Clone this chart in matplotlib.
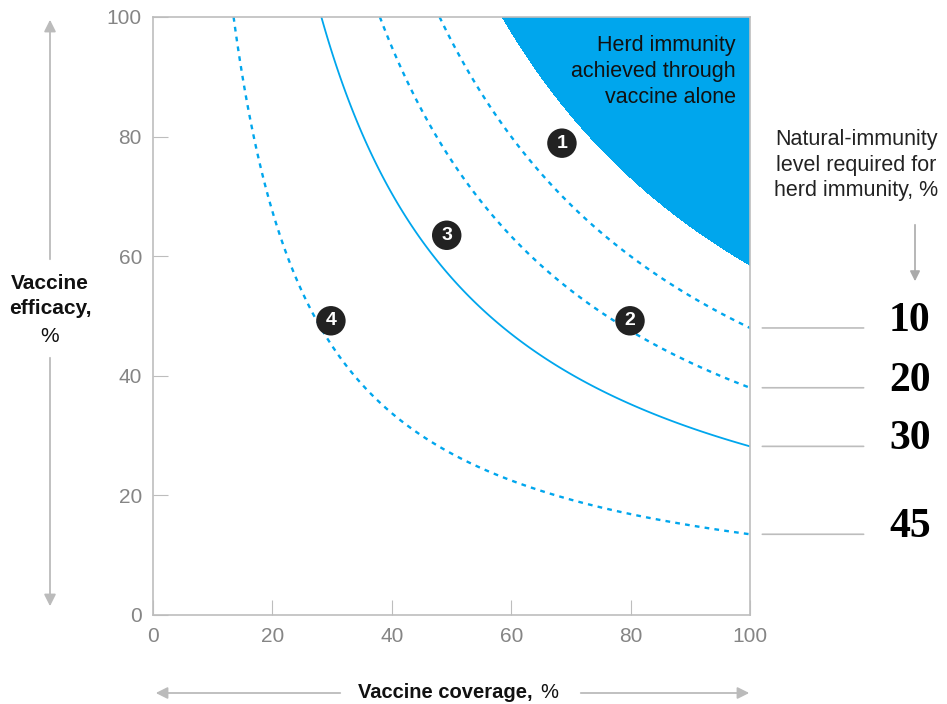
import numpy as np
import matplotlib.pyplot as plt
from matplotlib.patches import FancyArrowPatch

plt.rcParams['font.family'] = ['Liberation Sans', 'DejaVu Sans']

herd_level = 58.5
curve_levels = [48.0, 38.0, 28.2, 13.5]
curve_labels = ['10', '20', '30', '45']
curve_styles = ['dotted', 'dotted', 'solid', 'dotted']

# numbered markers (coverage, efficacy)
badge_nums = ['1', '2', '3', '4']
badge_x = [68.5, 79.9, 49.2, 29.8]
badge_y = [78.9, 49.2, 63.5, 49.2]

ticks = [0, 20, 40, 60, 80, 100]

blue = '#00a6ed'
grey = '#bdbdbd'
tick_grey = '#858585'

fig = plt.figure(figsize=(9.47, 7.04), dpi=100)
ax = fig.add_axes([153/947, 1-615/704, 597/947, 598/704])

cov = np.linspace(0.01, 100, 900)
eff = np.linspace(0.01, 100, 900)
C, E = np.meshgrid(cov, eff)
Z = C * E / 100.0

ax.contourf(C, E, Z, levels=[herd_level, 1000], colors=[blue])
for lvl, ls in zip(curve_levels, curve_styles):
    if ls == 'solid':
        ax.contour(C, E, Z, levels=[lvl], colors=[blue], linewidths=1.3)
    else:
        cs = ax.contour(C, E, Z, levels=[lvl], colors=[blue], linewidths=1.7)
        cs.set_linestyle((0, (2.0, 2.2)))

for n, bx, by in zip(badge_nums, badge_x, badge_y):
    ax.scatter(bx, by, s=450, color='#222222', zorder=5, edgecolors='none')
    ax.text(bx, by, n, color='white', fontsize=14, fontweight='bold',
            ha='center', va='center', zorder=6)

ax.text(97.6, 97.0, 'Herd immunity\nachieved through\nvaccine alone', ha='right', va='top',
        fontsize=15.5, color='#111111', linespacing=1.3)

ax.set_xlim(0, 100)
ax.set_ylim(0, 100)
ax.set_xticks(ticks)
ax.set_yticks(ticks)
ax.tick_params(direction='in', length=11, color=grey, labelcolor=tick_grey,
               labelsize=15, pad=9)
ax.tick_params(axis='y', pad=8)
for s in ax.spines.values():
    s.set_color(grey)
    s.set_linewidth(1.2)

# right-side labels for natural-immunity level
for lvl, lab in zip(curve_levels, curve_labels):
    ax.annotate('', xy=(119.5, lvl), xytext=(101.6, lvl), xycoords='data',
                annotation_clip=False,
                arrowprops=dict(arrowstyle='-', color=grey, lw=1.2))
    ax.text(126.8, lvl + 1.2, lab, fontsize=30, fontweight='bold', ha='center',
            va='center', family=['Liberation Serif', 'DejaVu Serif'], clip_on=False)

fig.text(856/947, 1-165/704, 'Natural-immunity\nlevel required for\nherd immunity, %',
         ha='center', va='center', fontsize=15.5, color='#222222', linespacing=1.3)
fig.add_artist(FancyArrowPatch((915/947, 1-222/704), (915/947, 1-284/704),
                               transform=fig.transFigure, arrowstyle='-|>,head_length=6,head_width=3',
                               color='#aaaaaa', lw=1.2))

# y axis label with split arrow
fig.text(50/947, 1-296/704, 'Vaccine\nefficacy,', ha='center', va='center', fontsize=15,
         fontweight='bold', color='#111111', linespacing=1.35)
fig.text(50/947, 1-336/704, '%', ha='center', va='center', fontsize=15, color='#111111')
fig.add_artist(FancyArrowPatch((50/947, 1-262/704), (50/947, 1-17/704),
                               transform=fig.transFigure, arrowstyle='-|>,head_length=7,head_width=3.5',
                               color='#bbbbbb', lw=1.3))
fig.add_artist(FancyArrowPatch((50/947, 1-355/704), (50/947, 1-609/704),
                               transform=fig.transFigure, arrowstyle='-|>,head_length=7,head_width=3.5',
                               color='#bbbbbb', lw=1.3))

# x axis label with split arrow
fig.text(358/947, 1-693/704, 'Vaccine coverage,', ha='left', va='center', fontsize=14.5,
         fontweight='bold', color='#111111')
fig.text(540/947, 1-693/704, '%', ha='left', va='center', fontsize=14.5, color='#111111')
fig.add_artist(FancyArrowPatch((343/947, 1-693/704), (153/947, 1-693/704),
                               transform=fig.transFigure, arrowstyle='-|>,head_length=7,head_width=3.5',
                               color='#bbbbbb', lw=1.3))
fig.add_artist(FancyArrowPatch((578/947, 1-693/704), (752/947, 1-693/704),
                               transform=fig.transFigure, arrowstyle='-|>,head_length=7,head_width=3.5',
                               color='#bbbbbb', lw=1.3))

fig.savefig('out.png', dpi=100)
